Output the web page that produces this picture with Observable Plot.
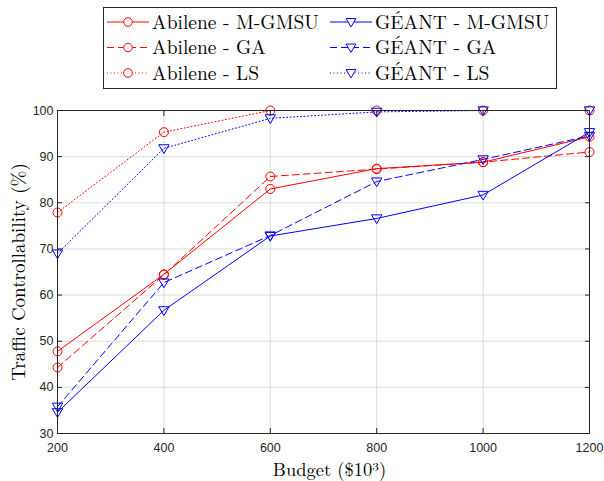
<!DOCTYPE html>
<html>
<head>
<meta charset="utf-8">
<script src="https://cdn.jsdelivr.net/npm/d3@7"></script>
<script src="https://cdn.jsdelivr.net/npm/@observablehq/plot@0.6"></script>
<style>
  body { margin: 0; background: #fff; }
  #wrap { width: 604px; height: 481px; position: relative; }
  svg { display: block; }
</style>
</head>
<body>
<div id="wrap"></div>
<script>
// ---- data ----
const budget = [200, 400, 600, 800, 1000, 1200];
const abileneMGMSU = [47.8, 64.5, 83.0, 87.4, 88.8, 94.3];
const abileneGA    = [44.3, 64.4, 85.7, 87.3, 88.8, 91.0];
const abileneLS    = [77.9, 95.3, 100, 100, 100, 100];
const geantMGMSU   = [34.6, 56.7, 72.8, 76.6, 81.7, 95.3];
const geantGA      = [35.8, 62.7, 72.9, 84.6, 89.4, 94.5];
const geantLS      = [69.0, 91.8, 98.3, 99.7, 100, 100];
const seriesNames = ["Abilene - M-GMSU", "Abilene - GA", "Abilene - LS",
                     "GÉANT - M-GMSU", "GÉANT - GA", "GÉANT - LS"];
const xTicks = [200, 400, 600, 800, 1000, 1200];
const yTicks = [30, 40, 50, 60, 70, 80, 90, 100];

const seriesValues = [abileneMGMSU, abileneGA, abileneLS, geantMGMSU, geantGA, geantLS];
const styles = [
  {color: "#ff0000", dash: null, sym: "circle"},
  {color: "#ff0000", dash: "7,4", sym: "circle"},
  {color: "#ff0000", dash: "1,2.5", sym: "circle"},
  {color: "#0000ff", dash: null, sym: "tri"},
  {color: "#0000ff", dash: "7,4", sym: "tri"},
  {color: "#0000ff", dash: "1,2.5", sym: "tri"}
];

const triDown = {
  draw(ctx, size) {
    const r = Math.sqrt(size / Math.PI);
    ctx.moveTo(-1.15 * r, -0.8 * r);
    ctx.lineTo(1.15 * r, -0.8 * r);
    ctx.lineTo(0, 1.15 * r);
    ctx.closePath();
  }
};

const serif = "'Latin Modern Roman', 'CMU Serif', 'Liberation Serif', serif";

// ---- legend (above the plot svg) ----
const wrap = d3.select("#wrap");
const leg = wrap.append("svg").attr("width", 604).attr("height", 95);
leg.append("rect").attr("x", 103.5).attr("y", 7.5).attr("width", 453).attr("height", 81)
  .attr("fill", "#fff").attr("stroke", "#262626").attr("stroke-width", 1);
const rowsY = [22, 47.5, 73];
seriesNames.forEach((name, i) => {
  const col = i < 3 ? 0 : 1;
  const row = i % 3;
  const x0 = col === 0 ? 107 : 330;
  const y = rowsY[row];
  const st = styles[i];
  const ln = leg.append("line").attr("x1", x0).attr("x2", x0 + 42).attr("y1", y).attr("y2", y)
    .attr("stroke", st.color).attr("stroke-width", 1);
  if (st.dash) ln.attr("stroke-dasharray", st.dash);
  leg.append("path")
    .attr("transform", `translate(${x0 + 21},${y})`)
    .attr("d", st.sym === "circle" ? d3.symbol(d3.symbolCircle, Math.PI * 4.3 * 4.3)() : d3.symbol(triDown, Math.PI * 4.3 * 4.3)())
    .attr("fill", "#fff").attr("stroke", st.color).attr("stroke-width", 1);
  leg.append("text").attr("x", x0 + 45).attr("y", y).attr("dy", "0.35em")
    .attr("font-family", serif).attr("font-size", 19.5).attr("fill", "#000").text(name);
});

// ---- plot ----
const rows = [];
seriesNames.forEach((name, i) => {
  budget.forEach((b, j) => rows.push({series: name, idx: i, x: b, y: seriesValues[i][j]}));
});

const marks = [
  Plot.gridX(xTicks, {stroke: "#dcdcdc", strokeOpacity: 1}),
  Plot.gridY(yTicks, {stroke: "#dcdcdc", strokeOpacity: 1}),
];
seriesNames.forEach((name, i) => {
  const st = styles[i];
  const d = rows.filter(r => r.idx === i);
  marks.push(Plot.line(d, {x: "x", y: "y", stroke: st.color, strokeWidth: 1,
    strokeDasharray: st.dash || undefined}));
});
seriesNames.forEach((name, i) => {
  const st = styles[i];
  const d = rows.filter(r => r.idx === i);
  marks.push(Plot.dot(d, {x: "x", y: "y", r: 4.5, stroke: st.color, strokeWidth: 1, fill: "none",
    symbol: st.sym === "circle" ? "circle" : triDown}));
});
marks.push(
  Plot.frame({stroke: "#262626", strokeWidth: 1}),
  Plot.axisX(xTicks, {anchor: "bottom", tickSize: -5, tickPadding: 15, tickFormat: d3.format("d"), label: null, stroke: "#262626"}),
  Plot.axisX(xTicks, {anchor: "top", tickSize: -5, tickFormat: () => "", label: null, stroke: "#262626"}),
  Plot.axisY(yTicks, {anchor: "left", tickSize: -5, tickPadding: 9, tickFormat: d3.format("d"), label: null, stroke: "#262626"}),
  Plot.axisY(yTicks, {anchor: "right", tickSize: -5, tickFormat: () => "", label: null, stroke: "#262626"}),
  Plot.text(["Traffic Controllability (%)"], {frameAnchor: "left", textAnchor: "middle", dx: -39, dy: 0, rotate: -90,
    fontFamily: serif, fontSize: 19, fill: "#000"}),
  Plot.text(["Budget ($10³)"], {frameAnchor: "bottom", textAnchor: "middle", dx: 6, dy: 42,
    fontFamily: serif, fontSize: 18.5, fill: "#000"})
);

const chart = Plot.plot({
  width: 604,
  height: 386,
  marginTop: 15,
  marginBottom: 48,
  marginLeft: 57,
  marginRight: 15,
  x: {domain: [200, 1200]},
  y: {domain: [30, 100]},
  style: {fontFamily: "'Liberation Sans', Arial, sans-serif", fontSize: "12.5px", color: "#262626", background: "#fff"},
  marks
});
wrap.node().appendChild(chart);
</script>
</body>
</html>
